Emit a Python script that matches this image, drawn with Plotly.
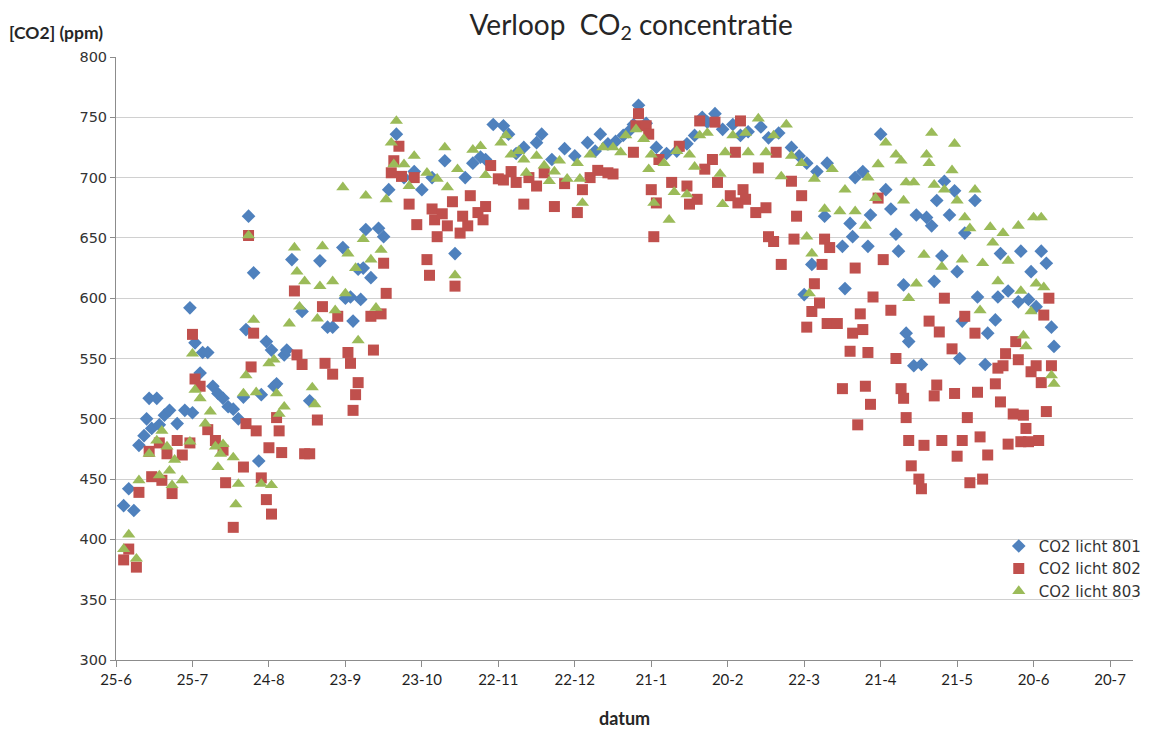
import pandas as pd
import plotly.graph_objects as go

# Measurement start and x-axis labels (one every 30 days)
START = "2013-06-25"
END = "2014-07-29"
TICK_LABELS = ["25-6", "25-7", "24-8", "23-9", "23-10", "22-11", "22-12",
               "21-1", "20-2", "22-3", "21-4", "21-5", "20-6", "20-7"]

# CO2 licht 801 : day offset from START, concentration in ppm
days_801 = [3, 5, 7, 9, 11, 12, 13, 14, 16, 17,
            19, 21, 24, 27, 29, 30, 31, 33, 34, 36,
            38, 40, 42, 44, 46, 48, 50, 51, 52, 54,
            56, 57, 59, 61, 62, 63, 66, 67, 69, 73,
            76, 80, 83, 85, 89, 90, 92, 93, 95, 96,
            97, 98, 100, 103, 105, 107, 110, 113, 117, 120,
            124, 129, 133, 137, 140, 143, 145, 148, 152, 154,
            157, 160, 165, 167, 171, 176, 180, 185, 188, 190,
            193, 196, 199, 201, 203, 205, 208, 212, 216, 220,
            224, 227, 230, 232, 235, 238, 242, 245, 248, 253,
            256, 260, 265, 268, 270, 271, 273, 275, 278, 279,
            285, 286, 288, 289, 290, 293, 295, 296, 300, 302,
            304, 306, 307, 309, 310, 311, 313, 314, 316, 318,
            320, 321, 322, 324, 325, 327, 329, 330, 331, 332,
            333, 337, 338, 341, 342, 345, 346, 347, 350, 354,
            355, 358, 359, 361, 363, 365, 367, 368]
ppm_801 = [428, 442, 424, 478, 486, 500, 517, 492, 517, 495,
           503, 507, 496, 507, 592, 505, 563, 538, 555, 555,
           527, 521, 517, 510, 508, 500, 518, 574, 668, 621,
           465, 520, 564, 557, 527, 529, 553, 557, 632, 589,
           515, 631, 576, 576, 642, 600, 601, 581, 624, 599,
           625, 657, 617, 658, 651, 690, 736, 700, 705, 690,
           700, 714, 637, 700, 712, 717, 715, 744, 743, 736,
           720, 725, 729, 736, 715, 724, 718, 729, 722, 736,
           728, 730, 735, 738, 744, 760, 745, 725, 720, 722,
           728, 735, 750, 746, 753, 740, 744, 735, 738, 742,
           733, 737, 725, 718, 603, 712, 628, 705, 668, 712,
           643, 608, 662, 651, 700, 705, 643, 669, 736, 690,
           674, 653, 639, 611, 571, 564, 544, 669, 545, 667,
           660, 614, 681, 635, 697, 669, 689, 622, 550, 581,
           654, 681, 601, 545, 571, 582, 601, 637, 606, 597,
           639, 599, 622, 593, 639, 629, 576, 560]

# CO2 licht 802
days_802 = [3, 5, 8, 9, 13, 14, 17, 18, 20, 22,
            24, 26, 29, 30, 31, 33, 36, 39, 42, 43,
            46, 50, 51, 52, 53, 54, 55, 57, 59, 60,
            61, 63, 64, 65, 70, 71, 73, 74, 76, 79,
            81, 82, 85, 87, 91, 92, 93, 94, 95, 100,
            101, 104, 105, 106, 108, 109, 111, 112, 115, 117,
            118, 122, 123, 124, 125, 126, 128, 130, 132, 133,
            135, 136, 138, 139, 142, 144, 145, 147, 150, 152,
            155, 157, 160, 162, 165, 168, 172, 176, 181, 183,
            186, 189, 193, 195, 203, 204, 205, 208, 209, 210,
            211, 212, 213, 218, 221, 224, 225, 228, 229, 231,
            234, 235, 236, 241, 243, 244, 245, 246, 247, 251,
            252, 255, 256, 258, 259, 261, 265, 266, 267, 269,
            271, 273, 274, 276, 277, 278, 279, 280, 283, 285,
            288, 289, 290, 291, 292, 293, 294, 295, 296, 297, 299,
            301, 304, 306, 308, 309, 310, 311, 312, 315, 316,
            317, 319, 321, 322, 323, 324, 325, 328, 329, 330,
            332, 333, 334, 335, 337, 338, 339, 340, 342, 345,
            346, 347, 348, 349, 350, 352, 353, 354, 355, 356,
            357, 358, 359, 361, 362, 363, 364, 365, 366, 367]
ppm_802 = [383, 392, 377, 439, 473, 452, 480, 449, 471, 438,
           482, 470, 480, 570, 533, 527, 491, 482, 474, 447,
           410, 460, 496, 652, 543, 571, 490, 451, 433, 476,
           421, 501, 490, 472, 606, 553, 545, 471, 471, 499,
           593, 546, 537, 585, 555, 546, 507, 520, 530, 585,
           557, 587, 629, 604, 704, 714, 726, 701, 678, 700,
           661, 632, 619, 674, 665, 651, 670, 660, 680, 610,
           654, 668, 660, 685, 671, 665, 676, 710, 699, 698,
           705, 696, 678, 700, 693, 704, 676, 695, 671, 690,
           700, 706, 704, 703, 721, 743, 753, 743, 736, 690,
           651, 679, 715, 696, 726, 693, 678, 682, 747, 707,
           715, 746, 696, 685, 721, 679, 747, 690, 682, 671,
           708, 675, 651, 647, 721, 628, 697, 649, 668, 685,
           576, 589, 612, 596, 628, 649, 579, 642, 579, 525,
           556, 571, 625, 495, 587, 574, 527, 555, 512, 601, 683,
           632, 590, 550, 525, 517, 501, 482, 461, 450, 442,
           478, 581, 519, 528, 572, 482, 600, 558, 521, 469,
           482, 585, 501, 447, 571, 522, 485, 450, 470, 529,
           542, 514, 544, 554, 479, 504, 564, 549, 481, 503,
           492, 481, 539, 544, 482, 530, 586, 506, 600, 544]

# CO2 licht 803
days_803 = [3, 5, 8, 9, 13, 16, 17, 18, 20, 21,
            22, 23, 26, 29, 30, 31, 33, 35, 37, 39,
            40, 41, 42, 46, 47, 48, 50, 51, 52, 54,
            55, 57, 60, 61, 62, 63, 64, 66, 68, 70,
            71, 72, 74, 77, 78, 79, 80, 81, 85, 86,
            89, 90, 91, 94, 95, 97, 98, 100, 102, 104,
            106, 108, 109, 110, 113, 115, 117, 122, 126, 129,
            130, 133, 134, 140, 143, 145, 151, 153, 155, 158,
            160, 161, 165, 168, 170, 172, 174, 177, 181, 182,
            183, 186, 191, 195, 198, 200, 204, 207, 209, 210,
            211, 215, 217, 219, 220, 224, 225, 227, 229, 232,
            237, 238, 239, 242, 247, 248, 252, 255, 258, 261,
            263, 265, 269, 271, 272, 273, 274, 278, 281, 284,
            286, 290, 294, 295, 298, 299, 302, 306, 308, 309,
            310, 311, 313, 314, 317, 318, 319, 320, 321, 324,
            325, 328, 329, 330, 332, 333, 335, 337, 339, 340,
            343, 344, 346, 348, 350, 354, 355, 356, 357, 359,
            360, 361, 363, 364, 367, 368]
ppm_803 = [392, 404, 384, 449, 471, 482, 453, 490, 477, 457,
           445, 466, 449, 481, 554, 524, 517, 496, 506, 477,
           460, 471, 479, 468, 429, 446, 521, 536, 652, 582,
           522, 446, 546, 445, 549, 521, 504, 510, 579, 642,
           622, 593, 614, 526, 512, 583, 610, 643, 614, 590,
           692, 604, 637, 625, 565, 649, 685, 632, 592, 640,
           682, 729, 711, 747, 711, 693, 718, 704, 699, 725,
           692, 619, 707, 723, 726, 702, 729, 735, 719, 722,
           715, 704, 718, 710, 697, 705, 714, 699, 712, 699,
           679, 719, 725, 725, 721, 735, 740, 732, 707, 719,
           679, 712, 665, 688, 722, 686, 719, 709, 735, 737,
           703, 678, 721, 735, 737, 721, 749, 721, 735, 701,
           744, 718, 712, 651, 604, 637, 699, 674, 707, 672,
           690, 672, 660, 700, 683, 711, 729, 719, 714, 681,
           696, 600, 696, 612, 636, 719, 712, 737, 694, 626,
           690, 706, 728, 681, 632, 667, 658, 690, 590, 629,
           659, 646, 614, 654, 631, 660, 606, 569, 560, 589,
           667, 612, 667, 609, 536, 529]

start = pd.Timestamp(START)


def to_dates(days):
    return start + pd.to_timedelta(days, unit="D")


series = [
    ("CO2 licht 801", days_801, ppm_801, "#4F81BD", "diamond", 10.5),
    ("CO2 licht 802", days_802, ppm_802, "#C0504D", "square", 11),
    ("CO2 licht 803", days_803, ppm_803, "#9BBB59", "triangle-up", 11.5),
]

fig = go.Figure()
for name, days, vals, color, symbol, size in series:
    fig.add_trace(go.Scatter(
        x=to_dates(days), y=vals, mode="markers", name=name,
        marker=dict(color=color, symbol=symbol, size=size, line=dict(width=0)),
    ))

tick_dates = pd.date_range(START, periods=len(TICK_LABELS), freq="30D")

fig.update_layout(
    width=1158, height=729,
    margin=dict(l=116, r=18, t=57, b=69),
    paper_bgcolor="white", plot_bgcolor="white",
    title=dict(text="Verloop  CO<sub>2</sub> concentratie",
               x=0.545, xanchor="center", y=0.966, yanchor="middle",
               yref="container",
               font=dict(family="Lato, Open Sans, sans-serif", size=28, color="#262626")),
    showlegend=True,
    legend=dict(x=0.868, xanchor="left", y=0.216, yanchor="top",
                bgcolor="rgba(255,255,255,0)", borderwidth=0,
                tracegroupgap=0, itemwidth=30,
                font=dict(family="DejaVu Sans, sans-serif", size=15, color="#333333")),
    xaxis=dict(type="date", range=[START, END],
               tickmode="array", tickvals=tick_dates, ticktext=TICK_LABELS,
               showgrid=False, zeroline=False,
               showline=True, linecolor="#8C8C8C", linewidth=1,
               ticks="outside", ticklen=6, tickcolor="#8C8C8C",
               tickfont=dict(family="Lato, Open Sans, sans-serif", size=15, color="#1F1F1F")),
    yaxis=dict(range=[300, 800], tick0=300, dtick=50,
               showgrid=True, gridcolor="#D0D0D0", gridwidth=1, zeroline=False,
               showline=True, linecolor="#8C8C8C", linewidth=1,
               ticks="outside", ticklen=5, tickcolor="#8C8C8C",
               tickfont=dict(family="DejaVu Sans, sans-serif", size=14.5, color="#333333")),
    annotations=[
        dict(text="<b>[CO2] (ppm)</b>", xref="paper", yref="paper",
             x=-0.107, y=1.04, xanchor="left", yanchor="middle", showarrow=False,
             font=dict(family="Lato, Open Sans, sans-serif", size=17.5, color="#262626")),
        dict(text="<b>datum</b>", xref="paper", yref="paper",
             x=0.5, y=-0.096, xanchor="center", yanchor="middle", showarrow=False,
             font=dict(family="Lato, Open Sans, sans-serif", size=18, color="#262626")),
    ],
)

fig.write_html("out.html")
